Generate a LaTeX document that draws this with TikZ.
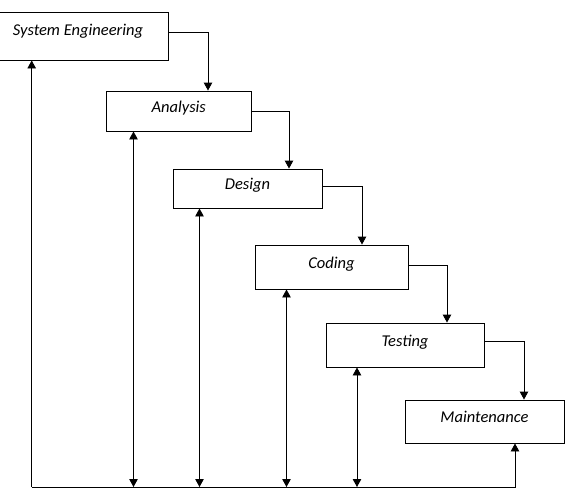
\documentclass[tikz,border=0pt]{standalone}
\usepackage{fontspec}
\setmainfont{Carlito}
\usetikzlibrary{arrows.meta}
\begin{document}
\begin{tikzpicture}[x=1pt,y=-1pt,
  box/.style={draw=black,line width=0.9pt,rectangle,inner sep=0pt,
    font=\itshape\fontsize{16.5}{19}\selectfont,text height=11pt,text depth=9pt},
  link/.style={draw=black,line width=0.9pt,-{Triangle[length=8pt,width=8.5pt]}},
  both/.style={draw=black,line width=0.9pt,{Triangle[length=8pt,width=8.5pt]}-{Triangle[length=8pt,width=8.5pt]}},
  plain/.style={draw=black,line width=0.9pt}]
\useasboundingbox (0,0) rectangle (566,504);
\clip (0,0) rectangle (566,504);
\node[box,minimum width=180pt,minimum height=47.3pt,text depth=12pt] (se) at (78,36.35) {System Engineering};
\node[box,minimum width=144.5pt,minimum height=40pt] (an) at (178.75,111) {Analysis};
\node[box,minimum width=149pt,minimum height=39pt] (de) at (247.5,188.5) {Design};
\node[box,minimum width=153pt,minimum height=44pt] (co) at (331.5,267) {Coding};
\node[box,minimum width=158pt,minimum height=44pt] (te) at (405,345) {Testing};
\node[box,minimum width=159pt,minimum height=43pt] (ma) at (484.5,421.5) {Maintenance};
% forward flow
\draw[link] ([yshift=4.35pt]se.east) -| ([xshift=29.25pt]an.north);
\draw[link] (an.east) -| ([xshift=41.5pt]de.north);
\draw[link] ([yshift=2.5pt]de.east) -| ([xshift=30.5pt]co.north);
\draw[link] ([yshift=2pt]co.east) -| ([xshift=42pt]te.north);
\draw[link] ([yshift=4pt]te.east) -| ([xshift=39.5pt]ma.north);
% feedback
\coordinate (bl) at (31.7,487);
\coordinate (br) at (515,487);
\draw[link] (bl) -- (bl |- se.south);
\draw[link] (bl) -- (br) -- (br |- ma.south);
\draw[both] ([xshift=-45.25pt]an.south) -- ([xshift=-45.25pt]an.south |- bl);
\draw[both] ([xshift=-48pt]de.south) -- ([xshift=-48pt]de.south |- bl);
\draw[both] ([xshift=-45pt]co.south) -- ([xshift=-45pt]co.south |- bl);
\draw[both] ([xshift=-48pt]te.south) -- ([xshift=-48pt]te.south |- bl);
\end{tikzpicture}
\end{document}
